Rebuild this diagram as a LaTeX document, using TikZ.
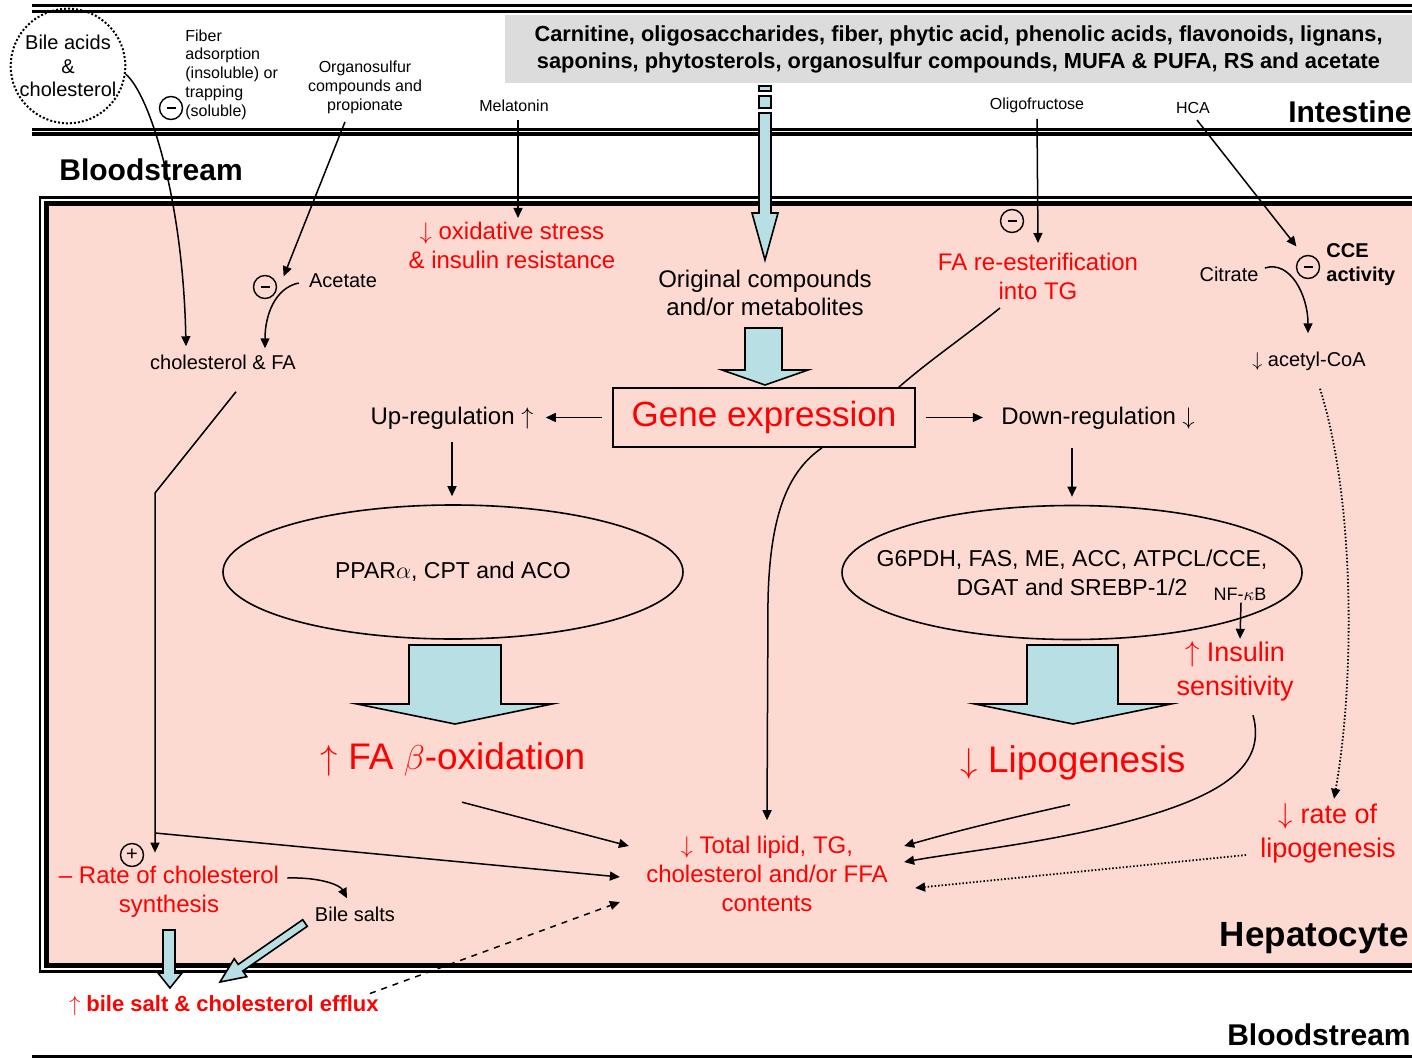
\documentclass[tikz,border=0pt]{standalone}
\usepackage{fontspec}
\setmainfont{Liberation Sans}
\usepackage{tikz}
\usetikzlibrary{arrows.meta,shapes.geometric}

\definecolor{cellpink}{RGB}{252,218,210}
\definecolor{arrowblue}{RGB}{184,224,228}
\definecolor{boxgray}{RGB}{220,220,220}

\begin{document}
\begin{tikzpicture}[x=0.5pt,y=-0.5pt,>={Triangle[length=5pt,width=4.5pt]},
    txt/.style={font=\fontsize{12}{14.3}\selectfont,align=center,inner sep=1pt},
    redtxt/.style={txt,text=red},
    small/.style={font=\fontsize{8}{9.5}\selectfont,align=center,inner sep=1pt},
    lbl/.style={font=\fontsize{10}{12}\selectfont,inner sep=1pt},
    region/.style={font=\fontsize{15}{18}\selectfont\bfseries,inner sep=0pt},
    bigred/.style={font=\fontsize{18.5}{22}\selectfont,text=red,inner sep=1pt},
    conn/.style={line width=0.75pt},
    blockarr/.style={fill=arrowblue,draw=black,line width=0.8pt,line join=miter},
    minus/.style={circle,draw,line width=0.7pt,minimum size=11.5pt,inner sep=0pt},
    enzymes/.style={ellipse,draw,line width=0.8pt,minimum width=230pt,minimum height=67pt,
      inner xsep=-25pt,inner ysep=-8pt,font=\fontsize{11.5}{14.3}\selectfont,align=center}]
        \clip (0,0) rectangle (1412,1059);
        \fill [white] (0,0) rectangle (1412,1059);
        % membranes
        \draw [line width=1.5pt] (32,5.5) -- (1420,5.5);
        \draw [line width=1.5pt] (32,11.5) -- (1420,11.5);
        \draw [line width=1.2pt] (32,129.5) -- (1420,129.5);
        \draw [line width=2pt] (32,134.5) -- (1420,134.5);
        \draw [line width=1.2pt] (40,197.5) rectangle (1430,971.5);
        \draw [line width=2.5pt,fill=cellpink] (46,204) rectangle (1430,965.5);
        \draw [line width=1.5pt] (32,1056.5) -- (1420,1056.5);
        % compartments
        \node [region,anchor=east] (intestine) at (1412,112) {Intestine};
        \node [region,anchor=west] (blood1) at (59,170) {Bloodstream};
        \node [region,anchor=east,font=\fontsize{17.5}{20}\selectfont\bfseries] (hepato) at (1409,938) {Hepatocyte};
        \node [region,anchor=east] (blood2) at (1411,1035) {Bloodstream};
        % intestine
        \node [fill=boxgray,minimum width=453.5pt,minimum height=34pt,inner sep=0pt,
          font=\fontsize{10.9}{13.5}\selectfont\bfseries,align=center] (diet) at (958.5,49)
          {Carnitine, oligosaccharides, fiber, phytic acid, phenolic acids, flavonoids, lignans,\\
           saponins, phytosterols, organosulfur compounds, MUFA \& PUFA, RS and acetate};
        \node [circle,draw,densely dotted,line width=1pt,minimum size=57pt,inner sep=0pt,
          font=\fontsize{10}{11.75}\selectfont,align=center] (bile) at (68,66) {Bile acids\\\&\\cholesterol};
        \node [small,align=left,anchor=west,font=\fontsize{8}{9.4}\selectfont] (fiber) at (183,74.5)
          {Fiber\\adsorption\\(insoluble) or\\trapping\\(soluble)};
        \node [minus] (mfiber) at (171,108) {\rule{4.5pt}{1.4pt}};
        \node [small] (orgs) at (365,87) {Organosulfur\\compounds and\\propionate};
        \node [small] (mel) at (514,106) {Melatonin};
        \node [small] (oligo) at (1037,105) {Oligofructose};
        \node [small] (hca) at (1193,108) {HCA};
        % hepatocyte, upper part
        \node [redtxt] (oxid) at (512,245.5) {$\downarrow$ oxidative stress\\\& insulin resistance};
        \node [lbl] (acet) at (343,281) {Acetate};
        \node [minus] (macet) at (265,287) {\rule{4.5pt}{1.4pt}};
        \node [lbl] (cholfa) at (223,362) {cholesterol \& FA};
        \node [txt] (orig) at (765,293) {Original compounds\\and/or metabolites};
        \node [redtxt] (reest) at (1038,276.5) {FA re-esterification\\into TG};
        \node [minus] (moligo) at (1012,221) {\rule{4.5pt}{1.4pt}};
        \node [lbl] (citr) at (1229,274) {Citrate};
        \node [minus] (mcce) at (1308,267) {\rule{4.5pt}{1.4pt}};
        \node [lbl,font=\fontsize{10}{12}\selectfont\bfseries,align=left,anchor=west] (cce) at (1324,265) {CCE\\activity};
        \node [lbl] (acoa) at (1309,361) {$\downarrow$ acetyl-CoA};
        % gene expression
        \node [draw,line width=0.8pt,minimum width=151pt,minimum height=29.5pt,
          font=\fontsize{17.5}{20}\selectfont,text=red] (gene) at (764,417.5) {Gene expression};
        \node [txt] (upreg) at (452,418) {Up-regulation $\uparrow$};
        \node [txt] (downreg) at (1098,418) {Down-regulation $\downarrow$};
        \node [enzymes] (ppar) at (453,572) {PPAR$\alpha$, CPT and ACO};
        \node [enzymes] (srebp) at (1072,572.5) {G6PDH, FAS, ME, ACC, ATPCL/CCE,\\DGAT and SREBP-1/2};
        \node [font=\fontsize{9}{11}\selectfont,inner sep=1pt] (nfkb) at (1240,594) {NF-$\kappa$B};
        \node [redtxt,font=\fontsize{13.5}{17}\selectfont] (insul) at (1235,671) {$\uparrow$ Insulin\\sensitivity};
        \node [bigred] (betaox) at (453,759) {$\uparrow$ FA $\beta$-oxidation};
        \node [bigred] (lipo) at (1073,763) {$\downarrow$ Lipogenesis};
        \node [redtxt,font=\fontsize{13.5}{17}\selectfont] (rate) at (1328,833) {$\downarrow$ rate of\\lipogenesis};
        % hepatocyte, lower part
        \node [redtxt] (total) at (767,874) {$\downarrow$ Total lipid, TG,\\cholesterol and/or FFA\\contents};
        \node [redtxt] (cholsyn) at (169,891.5) {– Rate of cholesterol\\synthesis};
        \node [minus,font=\fontsize{10}{12}\selectfont] (pchol) at (132,855) {+};
        \node [lbl] (bsalt) at (355,914) {Bile salts};
        \node [redtxt,font=\fontsize{11}{13}\selectfont\bfseries] (efflux) at (224,1006) {$\uparrow$ bile salt \& cholesterol efflux};
        % block arrows
        \filldraw [blockarr] (759,86) rectangle (771,91);
        \filldraw [blockarr] (759,96) rectangle (771,108);
        \path [blockarr] (759,113) -- (759,213) -- (752,213) -- (765,260) -- (778,213) -- (771,213) -- (771,113) -- cycle;
        \path [blockarr] (745,328) -- (745,370) -- (722,370) -- (765,385) -- (808,370) -- (782,370) -- (782,328) -- cycle;
        \path [blockarr] (409,645) -- (409,704) -- (357,704) -- (455,724) -- (552,704) -- (501,704) -- (501,645) -- cycle;
        \path [blockarr] (1027,645) -- (1027,704) -- (975,704) -- (1073,724) -- (1171,704) -- (1118,704) -- (1118,645) -- cycle;
        \path [blockarr] (163,930) -- (163,973) -- (158,973) -- (170,988) -- (182,973) -- (175,973) -- (175,930) -- cycle;
        \path [blockarr] (307.3,926.3) -- (242.8,971) -- (246.8,976.7) -- (220,982) -- (234.2,958.7) -- (238.2,964.4) -- (302.7,919.7) -- cycle;
        % connectors, left
        \draw [conn,->] (bile.-8) .. controls (150,95) and (183,200) .. ([xshift=-18.5pt,yshift=3pt]cholfa.north);
        \draw [conn,->] ([xshift=-10pt,yshift=-3pt]orgs.south) -- ([xshift=5pt,yshift=1pt]macet.north east);
        \draw [conn,->] ([xshift=-4pt,yshift=-1pt]acet.west) .. controls (275,288) and (265,315) .. ([xshift=21pt,yshift=2pt]cholfa.north);
        \coordinate (br) at (155,833);
        \draw [conn,->] ([xshift=6.5pt,yshift=-10pt]cholfa.south) -- (155,493) -- (br) -- ([xshift=-7pt,yshift=5.5pt]cholsyn.north);
        \draw [conn,->] (br) -- ([xshift=-12pt,yshift=-1.5pt]total.west);
        \draw [conn,->] ([xshift=3pt,yshift=6.75pt]cholsyn.east) .. controls (320,877) and (340,885) .. ([xshift=-4pt,yshift=3pt]bsalt.north);
        \draw [conn,->,dashed] ([xshift=-5.5pt]efflux.north east) -- ([xshift=-12pt,yshift=-14pt]total.west);
        \draw [conn,->] ([xshift=2pt,yshift=-3pt]mel.south) -- ([xshift=3pt,yshift=1pt]oxid.north);
        % connectors, gene expression
        \draw [conn,->,shorten <=5pt,shorten >=5pt] (gene.west) -- (gene.west -| upreg.east);
        \draw [conn,->,shorten <=5pt,shorten >=8pt] (gene.east) -- (gene.east -| downreg.west);
        \draw [conn,->,shorten <=5pt,shorten >=4pt] (upreg.south) -- (upreg.south |- ppar.north);
        \draw [conn,->,shorten <=8pt,shorten >=4pt] (srebp.north |- downreg.south) -- (srebp.north);
        \draw [conn,->] ([xshift=29pt]gene.south) .. controls (790,470) and (770,510) .. (768,600) -- ([yshift=7pt]total.north);
        \draw [conn] ([xshift=-19pt,yshift=-3pt]reest.south) .. controls (960,340) and (930,360) .. ([xshift=-8.5pt]gene.north east);
        \draw [conn,->] ([yshift=-2pt]oligo.south) -- ([yshift=4pt]reest.north);
        \draw [conn,->] ([xshift=0.5pt]nfkb.south) -- (nfkb.south |- insul.north);
        % connectors, right
        \draw [conn,->] ([xshift=2pt,yshift=-2pt]hca.south) -- ([xshift=-1.5pt,yshift=6pt]mcce.north west);
        \draw [conn,->] ([xshift=2pt,yshift=3pt]citr.east) .. controls (1290,260) and (1308,295) .. ([xshift=-0.5pt,yshift=8pt]acoa.north);
        \draw [conn,->,densely dotted,line width=0.9pt] ([xshift=5.5pt,yshift=-8pt]acoa.south) .. controls (1355,500) and (1355,680) .. ([xshift=3pt,yshift=1pt]rate.north);
        \draw [conn,->,densely dotted,line width=0.9pt] ([xshift=-6pt,yshift=-11pt]rate.west) -- ([xshift=12.5pt,yshift=-7pt]total.east);
        \draw [conn,->] ([xshift=9pt,yshift=-6pt]insul.south) .. controls (1268,770) and (1215,800) .. (1110,826)
          .. controls (1030,845) and (960,852) .. ([xshift=7pt,yshift=6pt]total.east);
        \draw [conn,->] ([xshift=-1.5pt,yshift=-11pt]lipo.south) .. controls (1010,818) and (960,830) .. ([xshift=7pt,yshift=14pt]total.east);
        \draw [conn,->] ([xshift=4.5pt,yshift=-12pt]betaox.south) -- ([xshift=-7.5pt,yshift=14pt]total.west);
    \end{tikzpicture}
\end{document}
